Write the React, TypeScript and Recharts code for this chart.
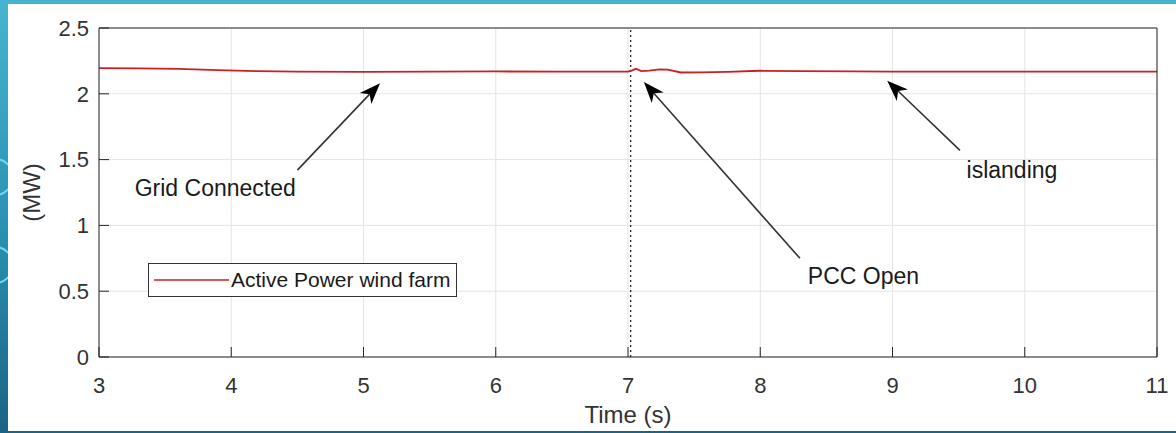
import React from 'react';
import {
  LineChart,
  Line,
  XAxis,
  YAxis,
  CartesianGrid,
  ReferenceLine,
  ReferenceDot,
  Legend
} from 'recharts';

// active power of the wind farm
const timeS = [3.0, 3.3, 3.6, 3.9, 4.2, 4.5, 5.0, 5.5, 6.0, 6.5, 6.9, 7.0, 7.03, 7.06, 7.1, 7.16, 7.24, 7.3, 7.4, 7.55, 7.75, 8.0, 8.3, 8.7, 9.0, 9.5, 10.0, 10.5, 11.0];
const powerMW = [2.195, 2.193, 2.19, 2.18, 2.172, 2.168, 2.167, 2.168, 2.17, 2.168, 2.169, 2.168, 2.178, 2.19, 2.172, 2.176, 2.186, 2.184, 2.162, 2.163, 2.167, 2.175, 2.172, 2.17, 2.168, 2.169, 2.168, 2.169, 2.169];

const xTicks = [3, 4, 5, 6, 7, 8, 9, 10, 11];
const yTicks = [0, 0.5, 1, 1.5, 2, 2.5];
const pccOpenTime = 7.02;

const noteText = ['Grid Connected', 'PCC Open', 'islanding'];
const noteAt = [{ x: 3.27, y: 1.27 }, { x: 8.36, y: 0.6 }, { x: 9.56, y: 1.41 }];
const arrowTail = [{ x: 4.5, y: 1.42 }, { x: 8.3, y: 0.75 }, { x: 9.51, y: 1.57 }];
const arrowTip = [{ x: 5.125, y: 2.08 }, { x: 7.12, y: 2.09 }, { x: 8.96, y: 2.1 }];

const data = timeS.map((t, i) => ({ t, p: powerMW[i] }));

const FONT = '"Liberation Sans", Arial, Helvetica, sans-serif';
const AXIS = '#262626';

function Arrow(props: any) {
  const { x1, y1, x2, y2 } = props;
  const a = Math.atan2(y2 - y1, x2 - x1);
  const c = Math.cos(a);
  const s = Math.sin(a);
  const len = 21;
  const half = 8;
  const notch = 15;
  const bx = x2 - len * c;
  const by = y2 - len * s;
  const nx = x2 - notch * c;
  const ny = y2 - notch * s;
  const pts = [
    `${x2},${y2}`,
    `${bx - half * s},${by + half * c}`,
    `${nx},${ny}`,
    `${bx + half * s},${by - half * c}`
  ].join(' ');
  return (
    <g>
      <line x1={x1} y1={y1} x2={nx} y2={ny} stroke="#333" strokeWidth={1.6} />
      <polygon points={pts} fill="#000" />
    </g>
  );
}

const noteShape = (text: string) => (props: any) => (
  <text
    x={props.cx}
    y={props.cy}
    dominantBaseline="middle"
    fontFamily={FONT}
    fontSize={23}
    fill="#1a1a1a"
  >
    {text}
  </text>
);

function LegendBox(props: any) {
  const item = props.payload && props.payload[0];
  if (!item) return null;
  return (
    <div
      style={{
        width: 309,
        height: 34,
        boxSizing: 'border-box',
        border: '1.5px solid #333',
        background: '#fff',
        display: 'flex',
        alignItems: 'center',
        fontFamily: FONT,
        fontSize: 21,
        color: '#1a1a1a',
        whiteSpace: 'nowrap'
      }}
    >
      <svg width={78} height={10} style={{ marginLeft: 4 }}>
        <line x1={1} x2={76} y1={5} y2={5} stroke={item.color} strokeWidth={1.3} />
      </svg>
      <span>{item.value}</span>
    </div>
  );
}

const yLabel = (props: any) => {
  const vb = props.viewBox || { x: 49, y: 28, height: 329 };
  const cx = vb.x - 15;
  const cy = vb.y + vb.height / 2;
  return (
    <text
      x={cx}
      y={cy}
      transform={`rotate(-90 ${cx} ${cy})`}
      textAnchor="middle"
      dominantBaseline="middle"
      fontFamily={FONT}
      fontSize={24}
      fill="#333"
    >
      (MW)
    </text>
  );
};

export default function App() {
  return (
    <div
      style={{
        position: 'absolute',
        left: 0,
        top: 0,
        width: 1176,
        height: 433,
        overflow: 'hidden',
        background: 'linear-gradient(180deg, #46b4d0 0%, #2b93b5 50%, #1a6485 100%)'
      }}
    >
      <div style={{ position: 'absolute', left: -24, top: 158, width: 34, height: 34, borderRadius: '50%', border: '2px solid #6fd6ee' }} />
      <div style={{ position: 'absolute', left: -24, top: 246, width: 34, height: 34, borderRadius: '50%', border: '2px solid #6fd6ee' }} />
      <div style={{ position: 'absolute', left: 8, top: 4, width: 1168, height: 427, background: '#fff' }} />
      <div style={{ position: 'absolute', left: 0, top: 0 }}>
        <LineChart
          width={1176}
          height={433}
          data={data}
          margin={{ top: 27, right: 18, bottom: 46, left: 49 }}
          style={{ fontFamily: FONT }}
        >
          <CartesianGrid stroke="#e4e4e4" strokeWidth={1} />
          <XAxis
            dataKey="t"
            type="number"
            domain={[3, 11]}
            ticks={xTicks}
            height={30}
            stroke={AXIS}
            tickSize={-10}
            tickMargin={30}
            tick={{ fill: '#333', fontSize: 22 }}
            label={{ value: 'Time (s)', position: 'bottom', offset: 19, fill: '#333', fontSize: 24 }}
          />
          <XAxis
            xAxisId="top"
            orientation="top"
            dataKey="t"
            type="number"
            domain={[3, 11]}
            ticks={xTicks}
            height={1}
            stroke={AXIS}
            tickSize={-10}
            tick={false}
          />
          <YAxis
            type="number"
            domain={[0, 2.5]}
            ticks={yTicks}
            width={50}
            stroke={AXIS}
            tickSize={-10}
            tickMargin={20}
            tick={{ fill: '#333', fontSize: 22 }}
            label={yLabel}
          />
          <YAxis
            yAxisId="right"
            orientation="right"
            type="number"
            domain={[0, 2.5]}
            ticks={yTicks}
            width={1}
            stroke={AXIS}
            tickSize={-10}
            tick={false}
          />
          <ReferenceLine x={pccOpenTime} stroke="#222" strokeWidth={1.3} strokeDasharray="2 3" />
          <Line
            type="linear"
            dataKey="p"
            name="Active Power wind farm"
            stroke="#cc1f24"
            strokeWidth={1.8}
            dot={false}
            isAnimationActive={false}
          />
          {noteText.map((txt, i) => (
            <ReferenceLine
              key={'arrow' + i}
              segment={[arrowTail[i], arrowTip[i]]}
              shape={Arrow}
              ifOverflow="visible"
            />
          ))}
          {noteText.map((txt, i) => (
            <ReferenceDot
              key={'note' + i}
              x={noteAt[i].x}
              y={noteAt[i].y}
              r={0}
              shape={noteShape(txt)}
              ifOverflow="visible"
            />
          ))}
          <Legend
            layout="vertical"
            align="center"
            verticalAlign="middle"
            content={LegendBox}
            wrapperStyle={{ left: 148, top: 263, width: 309 }}
          />
        </LineChart>
      </div>
    </div>
  );
}
